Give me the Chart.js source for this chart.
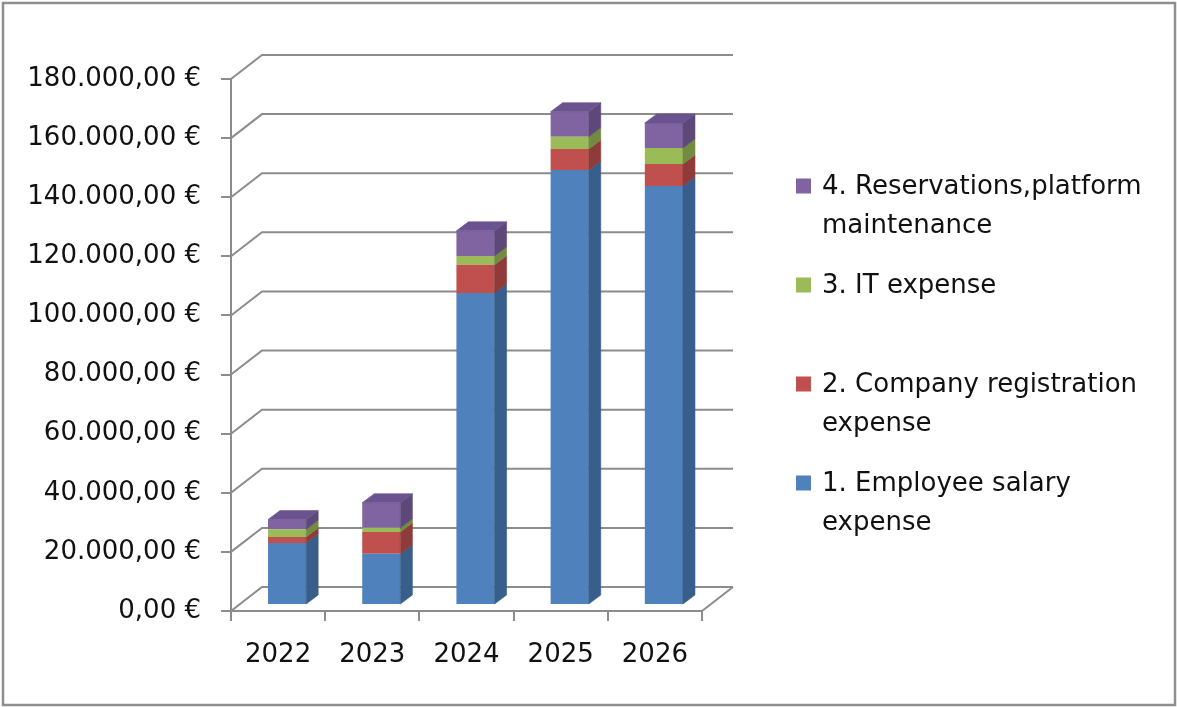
<!DOCTYPE html>
<html lang="fr">
<head>
<meta charset="UTF-8" />
<title>Dépenses 2022-2026</title>
<script src="https://cdn.jsdelivr.net/npm/chart.js@4.4.1/dist/chart.umd.min.js"></script>
<style>
  html,
  body {
    margin: 0;
    padding: 0;
    background: #ffffff;
  }
  canvas {
    display: block;
  }
</style>
</head>
<body>
<canvas id="myChartDepenses" width="1177" height="707"></canvas>
<script>
//? Données du graphique.

const annees = ["2022", "2023", "2024", "2025", "2026"];

const nomsSeries = [
  "1. Employee salary expense",
  "2. Company registration expense",
  "3. IT expense",
  "4. Reservations,platform maintenance",
];

const depensesSalaires = [21000, 17300, 105600, 147200, 141800];
const depensesEnregistrement = [2000, 7400, 9500, 7100, 7400];
const depensesInformatique = [2600, 1400, 3000, 4100, 5400];
const depensesReservations = [3300, 8500, 8500, 8500, 8500];

const axeYMin = 0;
const axeYMax = 180000;
const axeYPas = 20000;

//? -------------------------------------------------

//? Styles.

const couleursFace = ["#4f81bd", "#c0504d", "#9bbb59", "#8064a2"];
const couleursCote = ["#385e8c", "#8f3b39", "#738b41", "#5d4979"];
const couleursDessus = ["#4672a8", "#a84643", "#88a64e", "#6a5390"];
const couleurGrille = "#8c8c8c";
const couleurTexte = "#111111";
const police = '"DejaVu Sans", sans-serif';
const taillePolice = 26;

const profondeurMur = { dx: 31, dy: -24 };
const profondeurBarre = { dx: 12, dy: -9 };
const decalageBarres = { dx: 9, dy: -6 };

//? -------------------------------------------------

//? Format des montants : 180.000,00 €

const formatEuro = (valeur) => {
  const [entier, decimales] = Number(valeur).toFixed(2).split(".");
  return entier.replace(/\B(?=(\d{3})+(?!\d))/g, ".") + "," + decimales + " €";
};

//? -------------------------------------------------

//? Plugin : cadre, murs 3D et faces des barres.

const pluginEffet3d = {
  id: "effet3d",
  beforeDraw(chart) {
    const { ctx, width, height } = chart;
    ctx.save();
    ctx.fillStyle = "#ffffff";
    ctx.fillRect(0, 0, width, height);
    ctx.strokeStyle = "#8e8e8e";
    ctx.lineWidth = 2.5;
    ctx.strokeRect(3, 3, 1172, 702);
    ctx.restore();
  },
  beforeDatasetsDraw(chart) {
    const { ctx, chartArea, scales } = chart;
    const { left, right, bottom } = chartArea;
    const { dx, dy } = profondeurMur;

    ctx.save();
    ctx.strokeStyle = couleurGrille;
    ctx.lineWidth = 2;
    scales.y.ticks.forEach((tick) => {
      const y = scales.y.getPixelForValue(tick.value);
      ctx.beginPath();
      ctx.moveTo(left, y);
      ctx.lineTo(left + dx, y + dy);
      ctx.lineTo(right + dx, y + dy);
      ctx.stroke();
    });
    ctx.beginPath();
    ctx.moveTo(right, bottom);
    ctx.lineTo(right + dx, bottom + dy);
    ctx.stroke();
    ctx.restore();

    //? Les barres sont au milieu de la profondeur.
    ctx.save();
    ctx.translate(decalageBarres.dx, decalageBarres.dy);
  },
  afterDatasetsDraw(chart) {
    const { ctx } = chart;
    const { dx, dy } = profondeurBarre;
    const nbDatasets = chart.data.datasets.length;

    chart.data.labels.forEach((_, j) => {
      let indexHaut = -1;
      for (let i = 0; i < nbDatasets; i++) {
        if (chart.data.datasets[i].data[j] > 0) indexHaut = i;
      }

      for (let i = 0; i < nbDatasets; i++) {
        const barre = chart.getDatasetMeta(i).data[j];
        if (!barre || chart.data.datasets[i].data[j] <= 0) continue;
        const { x, y, base, width } = barre.getProps(["x", "y", "base", "width"], true);
        const xDroite = x + width / 2;
        const xGauche = x - width / 2;

        ctx.fillStyle = couleursCote[i];
        ctx.strokeStyle = couleursCote[i];
        ctx.lineWidth = 0.6;
        ctx.beginPath();
        ctx.moveTo(xDroite, y);
        ctx.lineTo(xDroite + dx, y + dy);
        ctx.lineTo(xDroite + dx, base + dy);
        ctx.lineTo(xDroite, base);
        ctx.closePath();
        ctx.fill();
        ctx.stroke();

        if (i === indexHaut) {
          ctx.fillStyle = couleursDessus[i];
          ctx.strokeStyle = couleursDessus[i];
          ctx.beginPath();
          ctx.moveTo(xGauche, y);
          ctx.lineTo(xGauche + dx, y + dy);
          ctx.lineTo(xDroite + dx, y + dy);
          ctx.lineTo(xDroite, y);
          ctx.closePath();
          ctx.fill();
          ctx.stroke();
        }
      }
    });

    ctx.restore();
  },
};

//? -------------------------------------------------

//? Plugin : légende à droite (ordre inverse, texte sur deux lignes).

const pluginLegende = {
  id: "legendeDroite",
  afterDraw(chart) {
    const { ctx } = chart;
    const xCarre = 796;
    const xTexte = 822;
    const yDepart = 187;
    const pas = 99;
    const interligne = 39;
    const carre = 15;
    const largeurMax = 340;

    ctx.save();
    ctx.font = taillePolice + "px " + police;
    ctx.fillStyle = couleurTexte;
    ctx.textBaseline = "middle";
    ctx.textAlign = "left";

    const datasets = chart.data.datasets.slice().reverse();
    datasets.forEach((dataset, k) => {
      const yLigne = yDepart + k * pas;

      //? Découpage du libellé selon la largeur.
      const mots = dataset.label.split(" ");
      const lignes = [];
      let ligne = "";
      mots.forEach((mot) => {
        const essai = ligne ? ligne + " " + mot : mot;
        if (ctx.measureText(essai).width > largeurMax && ligne) {
          lignes.push(ligne);
          ligne = mot;
        } else {
          ligne = essai;
        }
      });
      lignes.push(ligne);

      ctx.fillStyle = dataset.backgroundColor;
      ctx.fillRect(xCarre, yLigne - carre / 2 - 1, carre, carre);

      ctx.fillStyle = couleurTexte;
      lignes.forEach((texte, n) => {
        ctx.fillText(texte, xTexte, yLigne + n * interligne);
      });
    });
    ctx.restore();
  },
};

//? -------------------------------------------------

//? Construction du graphique.

const constructionGraphiqueDepenses = () => {
  try {
    const ctxDepenses = document.getElementById("myChartDepenses").getContext("2d");

    const series = [
      depensesSalaires,
      depensesEnregistrement,
      depensesInformatique,
      depensesReservations,
    ];

    const data = {
      labels: annees,
      datasets: series.map((valeurs, i) => ({
        label: nomsSeries[i],
        data: valeurs,
        backgroundColor: couleursFace[i],
        borderWidth: 0,
        barPercentage: 0.405,
        categoryPercentage: 1,
        clip: false,
      })),
    };

    const optionsDepenses = {
      responsive: false,
      devicePixelRatio: 1,
      animation: false,
      events: [],
      layout: {
        padding: { left: 0, right: 475, top: 79, bottom: 0 },
      },
      plugins: {
        legend: { display: false },
        tooltip: { enabled: false },
      },
      scales: {
        x: {
          stacked: true,
          grid: {
            drawOnChartArea: false,
            drawTicks: true,
            tickLength: 10,
            color: couleurGrille,
            lineWidth: 2,
          },
          border: { display: true, color: couleurGrille, width: 2 },
          ticks: {
            color: couleurTexte,
            font: { family: police, size: taillePolice },
            padding: 19,
            maxRotation: 0,
          },
          afterFit: (scale) => {
            scale.height = 96;
          },
        },
        y: {
          stacked: true,
          min: axeYMin,
          max: axeYMax,
          grid: {
            drawOnChartArea: false,
            drawTicks: true,
            tickLength: 10,
            color: couleurGrille,
            lineWidth: 2,
          },
          border: { display: true, color: couleurGrille, width: 2 },
          ticks: {
            stepSize: axeYPas,
            color: couleurTexte,
            font: { family: police, size: taillePolice },
            padding: 20,
            callback: (valeur) => formatEuro(valeur),
          },
          afterFit: (scale) => {
            scale.width = 231;
          },
        },
      },
    };

    new Chart(ctxDepenses, {
      type: "bar",
      data,
      options: optionsDepenses,
      plugins: [pluginEffet3d, pluginLegende],
    });
  } catch (error) {
    console.error("🔴 ERREUR | Construction graphique dépenses :", error);
  }
};

constructionGraphiqueDepenses();
</script>
</body>
</html>
